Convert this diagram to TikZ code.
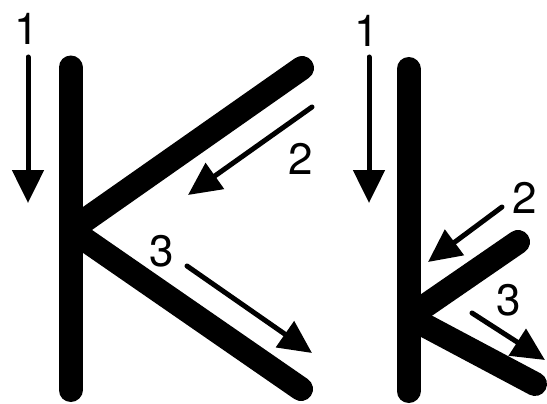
\documentclass[tikz,border=0pt]{standalone}
\usepackage{fontspec}
\setmainfont{TeX Gyre Heros}
\usetikzlibrary{arrows.meta}

\begin{document}
\begin{tikzpicture}[
      x=1pt, y=-1pt,
      % 字画の太線
      stroke/.style={line width=24pt, line cap=round},
      % 書き順の矢印
      order/.style={line width=5pt, line cap=round, -{Triangle[length=33pt, width=31pt]}},
      % 書き順の番号
      num/.style={inner sep=0pt, font=\fontsize{44}{44}\selectfont}
    ]
    \useasboundingbox (0,0) rectangle (547,404);
    \clip (0,0) rectangle (547,404);

    % --- 大文字 K ---
    \coordinate (KT) at (70.5,67.5);
    \coordinate (KB) at (70.5,390);
    \coordinate (KJ) at (71,230);
    \coordinate (KU) at (302,68);
    \coordinate (KL) at (301,389);
    \draw [stroke] (KT) -- (KB);
    \draw [stroke] (KJ) -- (KU);
    \draw [stroke] (KJ) -- (KL);

    % 大文字の書き順
    \coordinate (K1a) at (28,57);   \coordinate (K1b) at (28,203);
    \coordinate (K2a) at (312,107); \coordinate (K2b) at (188,195);
    \coordinate (K3a) at (187,266); \coordinate (K3b) at (312,353);
    \draw [order] (K1a) -- (K1b);
    \draw [order] (K2a) -- (K2b);
    \draw [order] (K3a) -- (K3b);
    \node [num] (Kn1) at (27,29) {1};
    \node [num] (Kn2) at (301,159) {2};
    \node [num] (Kn3) at (162,251) {3};

    % --- 小文字 k ---
    \coordinate (kT) at (408.5,69);
    \coordinate (kB) at (408.5,391);
    \coordinate (kJ) at (409,317);
    \coordinate (kU) at (518,242);
    \coordinate (kL) at (535,384);
    \draw [stroke] (kT) -- (kB);
    \draw [stroke] (kJ) -- (kU);
    \draw [stroke] (kJ) -- (kL);

    % 小文字の書き順
    \coordinate (k1a) at (369,57);  \coordinate (k1b) at (369,203);
    \coordinate (k2a) at (502,207); \coordinate (k2b) at (428,262);
    \coordinate (k3a) at (472,313); \coordinate (k3b) at (545,360);
    \draw [order] (k1a) -- (k1b);
    \draw [order] (k2a) -- (k2b);
    \draw [order] (k3a) -- (k3b);
    \node [num] (kn1) at (367,31) {1};
    \node [num] (kn2) at (525,197.5) {2};
    \node [num] (kn3) at (509,300) {3};

\end{tikzpicture}
\end{document}
